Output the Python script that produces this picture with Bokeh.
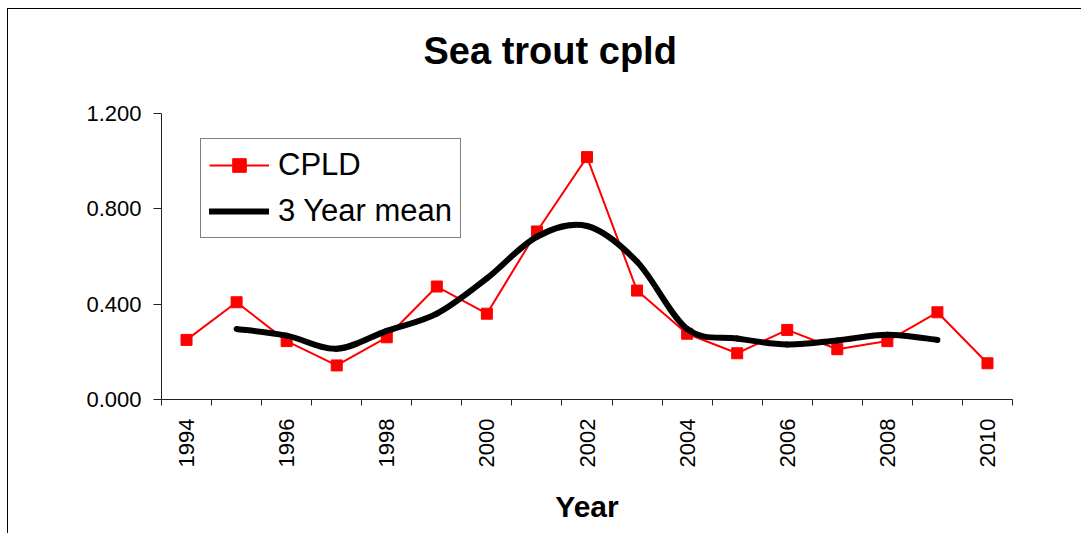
import numpy as np
from bokeh.plotting import figure
from bokeh.models import (FixedTicker, PrintfTickFormatter, Legend, LegendItem,
                          Title, Range1d)
from bokeh.embed import file_html
from bokeh.resources import INLINE

# ---- data ----
years = [1994, 1995, 1996, 1997, 1998, 1999, 2000, 2001, 2002,
         2003, 2004, 2005, 2006, 2007, 2008, 2009, 2010]
cpld = [0.250, 0.408, 0.245, 0.143, 0.261, 0.474, 0.360, 0.705, 1.017,
        0.457, 0.276, 0.194, 0.292, 0.211, 0.245, 0.366, 0.152]
mean_years = [1995, 1996, 1997, 1998, 1999, 2000, 2001, 2002,
              2003, 2004, 2005, 2006, 2007, 2008, 2009]
mean_vals = [0.296, 0.268, 0.213, 0.288, 0.360, 0.508, 0.683, 0.728,
             0.578, 0.296, 0.256, 0.231, 0.248, 0.272, 0.250]
label_years = [1994, 1996, 1998, 2000, 2002, 2004, 2006, 2008, 2010]
y_ticks = [0.0, 0.4, 0.8, 1.2]

FONT = "Liberation Sans"
AXIS_COLOR = "#222222"

# frame extends a bit above the 1.2 tick (axis line bounded to 0..1.2)
FRAME_TOP_PAD = 323.0 / 286.0

p = figure(width=1074, height=525, output_backend="svg", toolbar_location=None,
           x_range=Range1d(years[0] - 0.5, years[-1] + 0.5),
           y_range=Range1d(0, y_ticks[-1] * FRAME_TOP_PAD),
           min_border_left=153, min_border_right=70,
           min_border_top=67, min_border_bottom=135)
p.styles = {"border-left": "1px solid black", "border-top": "1px solid black",
            "margin-left": "7px", "margin-top": "8px"}
p.outline_line_color = None
p.xgrid.visible = False
p.ygrid.visible = False
p.background_fill_color = "white"
p.border_fill_color = "white"

# ---- title ----
p.add_layout(Title(text="Sea trout cpld", align="left", offset=262,
                   text_font=FONT, text_font_size="38px",
                   text_font_style="bold", text_color="black",
                   vertical_align="bottom", standoff=10), "above")

# ---- x axis ----
xa = p.xaxis[0]
xa.ticker = FixedTicker(ticks=label_years,
                        minor_ticks=[y - 0.5 for y in years] + [years[-1] + 0.5])
xa.major_tick_out = 0
xa.major_tick_in = 0
xa.minor_tick_out = 6
xa.minor_tick_in = 0
xa.major_label_orientation = np.pi / 2
xa.major_label_standoff = 13
xa.major_label_text_font = FONT
xa.major_label_text_font_size = "22px"
xa.major_label_text_color = "black"
xa.axis_line_color = AXIS_COLOR
xa.minor_tick_line_color = AXIS_COLOR
xa.axis_label = "Year"
xa.axis_label_text_font = FONT
xa.axis_label_text_font_size = "30px"
xa.axis_label_text_font_style = "bold"
xa.axis_label_text_color = "black"
xa.axis_label_standoff = 20

# ---- y axis ----
ya = p.yaxis[0]
ya.ticker = FixedTicker(ticks=y_ticks, minor_ticks=[])
ya.formatter = PrintfTickFormatter(format="%.3f")
ya.bounds = (y_ticks[0], y_ticks[-1])
ya.major_tick_out = 8
ya.major_tick_in = 0
ya.minor_tick_out = 0
ya.minor_tick_in = 0
ya.major_label_standoff = 12
ya.major_label_text_font = FONT
ya.major_label_text_font_size = "22px"
ya.major_label_text_color = "black"
ya.axis_line_color = AXIS_COLOR
ya.major_tick_line_color = AXIS_COLOR

# ---- CPLD series ----
r_line = p.line(years, cpld, line_color="red", line_width=2)
r_sq = p.scatter(years, cpld, marker="square", size=11,
                 fill_color="red", line_color="red")

# ---- 3 year mean: smoothed (Bezier segments through the read points) ----
mx = np.array(mean_years, dtype=float)
my = np.array(mean_vals, dtype=float)
n = len(mx)
x0, y0, x1, y1, cx0, cy0, cx1, cy1 = ([] for _ in range(8))
for i in range(n - 1):
    a = max(i - 1, 0)
    d = min(i + 2, n - 1)
    x0.append(mx[i]); y0.append(my[i])
    x1.append(mx[i + 1]); y1.append(my[i + 1])
    cx0.append(mx[i] + (mx[i + 1] - mx[a]) / 6.0)
    cy0.append(my[i] + (my[i + 1] - my[a]) / 6.0)
    cx1.append(mx[i + 1] - (mx[d] - mx[i]) / 6.0)
    cy1.append(my[i + 1] - (my[d] - my[i]) / 6.0)
r_mean = p.bezier(x0=x0, y0=y0, x1=x1, y1=y1, cx0=cx0, cy0=cy0, cx1=cx1, cy1=cy1,
                  line_color="black", line_width=6, line_cap="round")

# ---- legend ----
legend = Legend(items=[LegendItem(label="CPLD", renderers=[r_line, r_sq]),
                       LegendItem(label="3 Year mean", renderers=[r_mean])],
                location=(39, 161), margin=0, padding=8, spacing=10,
                glyph_width=60, glyph_height=34, label_height=34,
                label_standoff=9,
                label_text_font=FONT, label_text_font_size="31px",
                label_text_color="black",
                border_line_color="black", border_line_width=1,
                background_fill_color="white", background_fill_alpha=1)
p.add_layout(legend)

open("out.html", "w").write(file_html(p, INLINE))
